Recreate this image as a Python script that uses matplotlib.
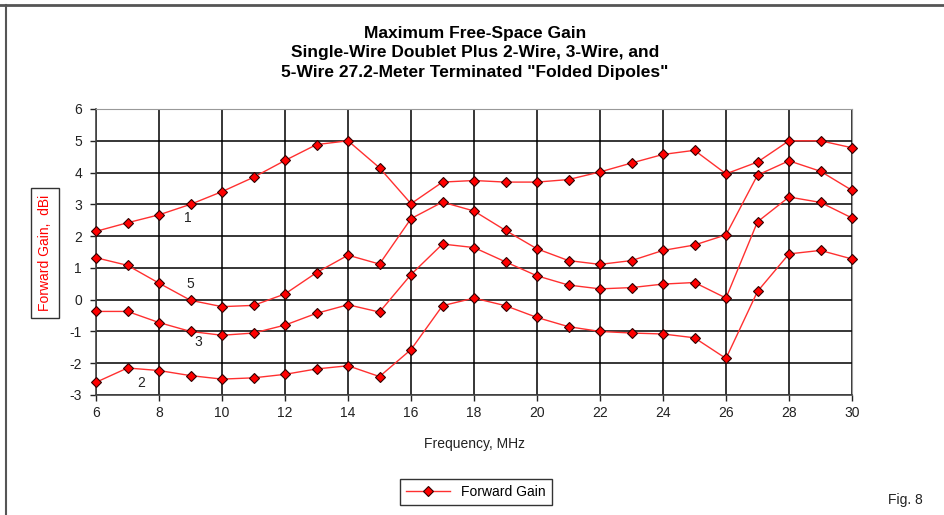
import matplotlib
matplotlib.use("Agg")
from matplotlib import pyplot as plt
from matplotlib.lines import Line2D

plt.rcParams['font.family'] = ['Liberation Sans', 'DejaVu Sans']
plt.rcParams['axes.unicode_minus'] = False

freq = list(range(6, 31))

# forward gain (dBi) for each doublet type
gain_1wire = [2.15, 2.42, 2.67, 3.0, 3.4, 3.85, 4.38, 4.88, 5.0, 4.15, 3.02, 3.7, 3.75,
              3.7, 3.7, 3.78, 4.02, 4.3, 4.57, 4.7, 3.96, 4.33, 5.0, 5.0, 4.78]
gain_5wire = [1.32, 1.08, 0.52, -0.02, -0.22, -0.18, 0.18, 0.85, 1.4, 1.12, 2.55, 3.07, 2.79,
              2.18, 1.6, 1.23, 1.11, 1.23, 1.55, 1.72, 2.04, 3.92, 4.37, 4.04, 3.44]
gain_3wire = [-0.37, -0.37, -0.72, -1.0, -1.12, -1.05, -0.8, -0.43, -0.16, -0.39, 0.79, 1.75,
              1.64, 1.19, 0.75, 0.46, 0.34, 0.38, 0.49, 0.54, 0.05, 2.45, 3.23, 3.06, 2.57]
gain_2wire = [-2.6, -2.15, -2.23, -2.39, -2.5, -2.46, -2.35, -2.18, -2.08, -2.42, -1.57, -0.19,
              0.05, -0.19, -0.56, -0.85, -1.0, -1.05, -1.08, -1.2, -1.85, 0.26, 1.44, 1.55, 1.28]

series = [gain_1wire, gain_5wire, gain_3wire, gain_2wire]

# curve labels: (text, freq, gain)
curve_labels = [("1", 8.92, 2.57), ("5", 8.98, 0.49), ("3", 9.25, -1.34), ("2", 7.45, -2.63)]

line_style = dict(color='#ff3030', linewidth=1.0, marker='D', markersize=5,
                  markerfacecolor='red', markeredgecolor='#300000', markeredgewidth=0.8)

fig = plt.figure(figsize=(9.44, 5.15), dpi=100)
ax = fig.add_axes([96 / 944, 1 - 395 / 515, 756 / 944, 286 / 515])

for g in series:
    ax.plot(freq, g, clip_on=False, zorder=3, **line_style)

for txt, fx, gy in curve_labels:
    ax.text(fx, gy, txt, fontsize=10, ha='center', va='center', color='#222222')

ax.set_xlim(6, 30)
ax.set_ylim(-3, 6)
ax.set_xticks(range(6, 31, 2))
ax.set_yticks(range(-3, 7))
ax.grid(True, color='black', linewidth=1.1)
ax.set_axisbelow(True)
for side in ['top', 'right']:
    ax.spines[side].set_color('#999999')
for side in ['left', 'bottom']:
    ax.spines[side].set_color('#444444')
    ax.spines[side].set_linewidth(1.2)
ax.tick_params(labelsize=10, length=4, width=1, direction='out', colors='#222222', pad=4)
ax.tick_params(axis='y', pad=6)
ax.set_xlabel('Frequency, MHz', fontsize=10, labelpad=12, color='#222222')

fig.text(45 / 944, 1 - 253 / 515, 'Forward Gain,  dBi', rotation=90, color='red',
         fontsize=10, ha='center', va='center',
         bbox=dict(boxstyle='square,pad=0.5', facecolor='white', edgecolor='#333333', linewidth=1))

fig.text(475 / 944, 1 - 53 / 515,
         'Maximum Free-Space Gain\nSingle-Wire Doublet Plus 2-Wire, 3-Wire, and\n'
         '5-Wire 27.2-Meter Terminated "Folded Dipoles"',
         fontsize=12.5, fontweight='bold', ha='center', va='center', linespacing=1.4)

handle = Line2D([], [], **line_style)
fig.legend([handle], ['Forward Gain'], loc='center', bbox_to_anchor=(476 / 944, 1 - 492 / 515),
           fontsize=10, frameon=True, fancybox=False, edgecolor='#333333', handlelength=3.2,
           borderpad=0.45, framealpha=1)

fig.text(905 / 944, 1 - 500 / 515, 'Fig. 8', fontsize=10, ha='center', va='center', color='#222222')

# cropped outer frame (top and left edges)
fig.add_artist(Line2D([0, 1], [1 - 5 / 515, 1 - 5 / 515], color='#555555', linewidth=2))
fig.add_artist(Line2D([6 / 944, 6 / 944], [0, 1 - 5 / 515], color='#555555', linewidth=1.5))

fig.savefig('out.png', dpi=100)
